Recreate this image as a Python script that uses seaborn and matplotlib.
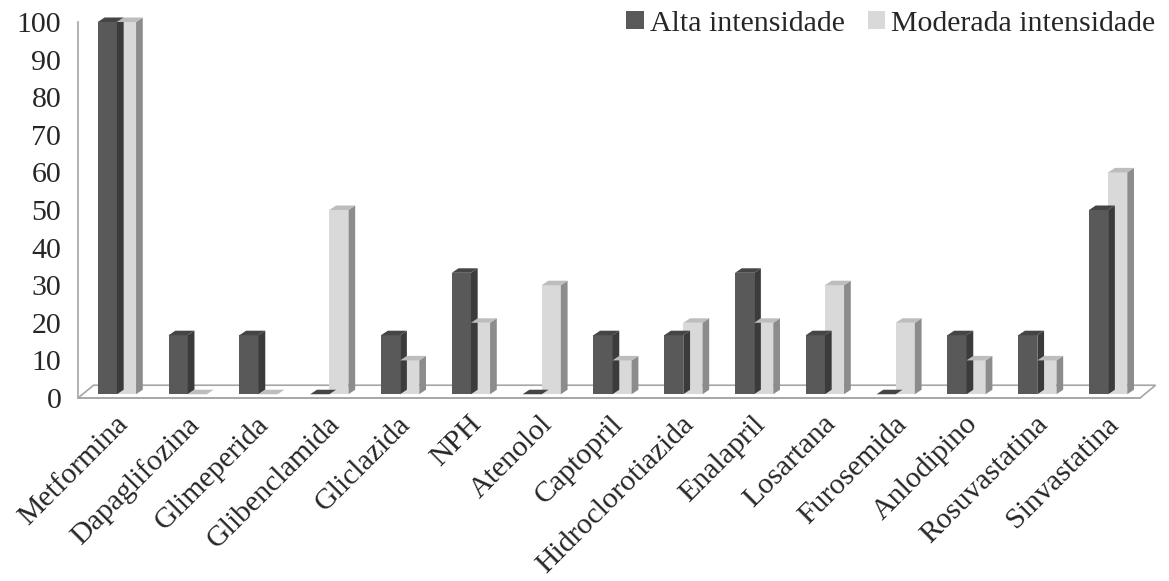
import numpy as np
import pandas as pd
import matplotlib
matplotlib.use("Agg")
import matplotlib.pyplot as plt
import matplotlib.transforms as mtransforms
from matplotlib.patches import Polygon, Patch
import seaborn as sns

categories = ["Metformina", "Dapaglifozina", "Glimeperida", "Glibenclamida", "Gliclazida",
              "NPH", "Atenolol", "Captopril", "Hidroclorotiazida", "Enalapril",
              "Losartana", "Furosemida", "Anlodipino", "Rosuvastatina", "Sinvastatina"]
alta = [100, 16.7, 16.7, 0, 16.7, 33.3, 0, 16.7, 16.7, 33.3, 16.7, 0, 16.7, 16.7, 50]
moderada = [100, 0, 0, 50, 10, 20, 30, 10, 20, 20, 30, 20, 10, 10, 60]
series_names = ["Alta intensidade", "Moderada intensidade"]
y_ticks = list(range(0, 101, 10))

df = pd.DataFrame({
    "Medicamento": categories * 2,
    "Valor": alta + moderada,
    "Intensidade": [series_names[0]] * len(categories) + [series_names[1]] * len(categories),
})

sns.set_style("white")
plt.rcParams["font.family"] = ["Liberation Serif", "DejaVu Serif"]

W, H = 1169, 581
fig = plt.figure(figsize=(W / 100, H / 100), dpi=100)
ax = fig.add_axes([78 / W, (H - 398) / H, (1140 - 78) / W, (398 - 22) / H])

dark, light = "#595959", "#d9d9d9"
side_col = {dark: "#3b3b3b", light: "#8c8c8c"}
top_col = {dark: "#454545", light: "#bdbdbd"}

sns.barplot(data=df, x="Medicamento", y="Valor", hue="Intensidade",
            hue_order=series_names, palette=[dark, light], width=0.54,
            ax=ax, legend=False, saturation=1, linewidth=0, zorder=3)

ax.set_xlim(-0.5, len(categories) - 0.5)
ax.set_ylim(0, 100)

dx, dy = 0.095, 1.2   # pseudo-3D depth in data units

# floor
n = len(categories)
floor = Polygon([(-0.5, 0), (n - 0.5, 0), (n - 0.5 + 0.22, 3.4), (-0.5 + 0.22, 3.4)],
                closed=True, facecolor="white", edgecolor="#a6a6a6", lw=1.2,
                zorder=1, clip_on=False)
ax.add_patch(floor)

base = 1.0
for p in list(ax.patches):
    if p is floor:
        continue
    x, w, h = p.get_x(), p.get_width(), p.get_height()
    x = x + 0.05
    p.set_x(x)
    fc = matplotlib.colors.to_hex(p.get_facecolor())
    p.set_y(base)
    p.set_height(h - base if h > base else 0)
    top = max(h, base)
    sc = side_col.get(fc, "#3b3b3b")
    tc = top_col.get(fc, "#454545")
    if h > 0:
        ax.add_patch(Polygon([(x + w, base), (x + w + dx, base + dy), (x + w + dx, top + dy), (x + w, top)],
                             closed=True, facecolor=sc, lw=0, zorder=3, clip_on=False))
    ax.add_patch(Polygon([(x, top), (x + dx, top + dy), (x + w + dx, top + dy), (x + w, top)],
                         closed=True, facecolor=tc, lw=0, zorder=3, clip_on=False))

sns.despine(ax=ax, top=True, right=True)
for s in ["left", "bottom"]:
    ax.spines[s].set_color("#a6a6a6")
    ax.spines[s].set_linewidth(1.2)

ax.set_yticks(y_ticks)
ax.set_yticklabels([str(t) for t in y_ticks], fontsize=21.5)
ax.tick_params(axis="y", direction="out", length=6, width=1.2, color="#a6a6a6", pad=6)

ax.set_xticks(range(n))
ax.set_xticks(np.arange(-0.5, n, 1.0), minor=True)
ax.tick_params(axis="x", which="major", length=0)
ax.tick_params(axis="x", which="minor", direction="out", length=8, width=1.2, color="#a6a6a6")
offset = mtransforms.ScaledTranslation(1 / 100, -8 / 100, fig.dpi_scale_trans)
ax.set_xticklabels(categories, fontsize=21.5, rotation=45, ha="right", va="top",
                   rotation_mode="anchor")
for lbl in ax.get_xticklabels():
    lbl.set_transform(lbl.get_transform() + offset)

ax.set_xlabel("")
ax.set_ylabel("")
ax.grid(False)

handles = [Patch(facecolor=dark, edgecolor="none"), Patch(facecolor=light, edgecolor="none")]
fig.legend(handles, series_names, loc="upper right", bbox_to_anchor=(1.0, 1.005),
           ncol=2, frameon=False, fontsize=21.5, handlelength=0.6, handleheight=0.6,
           handletextpad=0.2, columnspacing=0.75, borderaxespad=0.05)

fig.savefig("out.png", dpi=100)
